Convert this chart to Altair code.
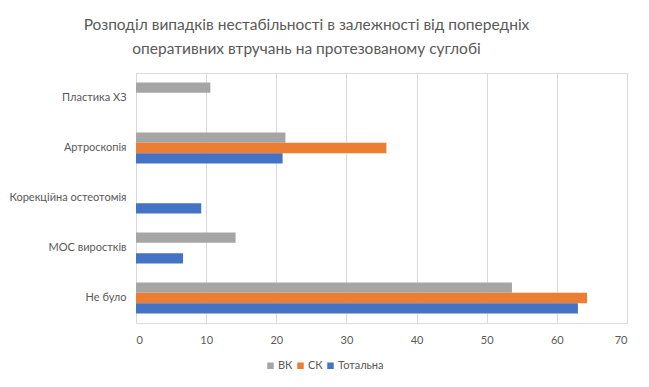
import altair as alt
import pandas as pd

categories = ["Пластика ХЗ", "Артроскопія", "Корекційна остеотомія", "МОС виростків", "Не було"]
series = ["ВК", "СК", "Тотальна"]
colors = ["#A5A5A5", "#ED7D31", "#4472C4"]
vk = [10.6, 21.3, None, 14.2, 53.6]
sk = [None, 35.7, None, None, 64.3]
tot = [None, 20.9, 9.3, 6.7, 63.0]
x_ticks = [0, 10, 20, 30, 40, 50, 60, 70]
title_lines = ["Розподіл випадків нестабільності в залежності від попередніх",
               "оперативних втручань на протезованому суглобі"]

rows = []
for s, vals in zip(series, [vk, sk, tot]):
    for c, v in zip(categories, vals):
        if v is not None:
            rows.append({"cat": c, "series": s, "value": v})
df = pd.DataFrame(rows)

FONT = "Lato"
GREY = "#595959"

chart = alt.Chart(df).mark_bar().encode(
    y=alt.Y("cat:N", sort=categories, title=None,
            scale=alt.Scale(paddingInner=0.38, paddingOuter=0.19),
            axis=alt.Axis(domain=False, ticks=False, labelPadding=10, labelFontSize=11,
                          labelColor=GREY, labelFont=FONT, grid=False, labelLimit=200)),
    yOffset=alt.YOffset("series:N", sort=series),
    x=alt.X("value:Q", title=None,
            scale=alt.Scale(domain=[0, 70], nice=False),
            axis=alt.Axis(values=x_ticks, domain=False, ticks=False, labelPadding=11,
                          labelFontSize=11, labelColor=GREY, labelFont=FONT,
                          gridColor="#D9D9D9", gridWidth=1)),
    color=alt.Color("series:N", sort=series,
                    scale=alt.Scale(domain=series, range=colors),
                    legend=alt.Legend(title=None, orient="none", direction="horizontal",
                                      legendX=129, legendY=287, symbolType="square",
                                      symbolSize=42, symbolStrokeWidth=0,
                                      labelFontSize=11, labelColor=GREY, labelFont=FONT,
                                      columnPadding=2, labelOffset=2)),
).properties(
    width=491, height=250,
    title=alt.Title(title_lines, fontSize=15.5, font=FONT, fontWeight="normal",
                    color=GREY, anchor="middle", dx=-75, offset=16, lineHeight=24),
    padding={"left": 128, "top": 65, "right": 14, "bottom": 56},
    autosize=alt.AutoSizeParams(type="none"),
).configure_view(stroke=None).configure(background="white")

chart.save("out.html", embed_options={"renderer": "svg", "actions": False})
